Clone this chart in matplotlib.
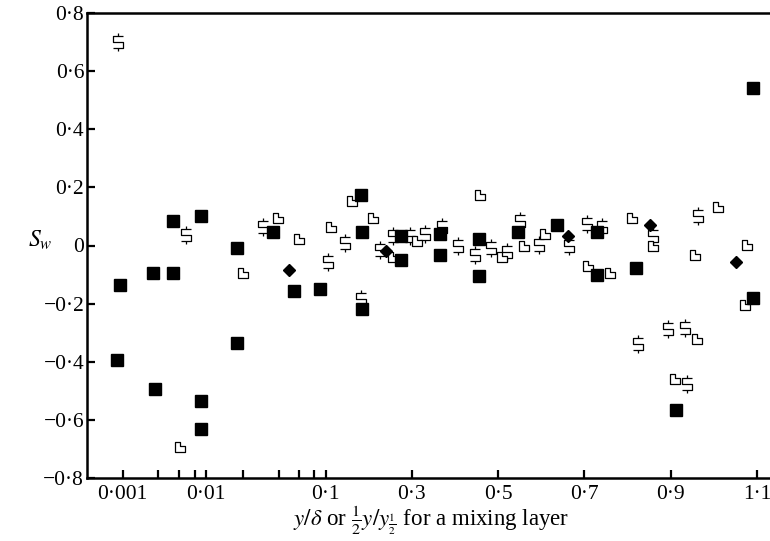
import numpy as np
import matplotlib.pyplot as plt
from matplotlib.path import Path

plt.rcParams['font.family'] = ['Liberation Serif', 'DejaVu Serif']
plt.rcParams['mathtext.fontset'] = 'stix'

# filled squares
sq_x = [0.00093, 0.00085, 0.0027, 0.0028, 0.0045, 0.0045, 0.0086, 0.0086, 0.0086,
        0.0185, 0.0185, 0.037, 0.055, 0.090, 0.182, 0.185, 0.185, 0.275, 0.275,
        0.365, 0.365, 0.456, 0.456, 0.546, 0.637, 0.729, 0.729, 0.820, 0.912,
        1.091, 1.091]
sq_y = [-0.137, -0.395, -0.093, -0.494, -0.093, 0.086, 0.103, -0.535, -0.631,
        -0.010, -0.336, 0.045, -0.158, -0.148, 0.175, 0.048, -0.220, 0.031, -0.051,
        0.038, -0.034, 0.021, -0.106, 0.048, 0.072, 0.045, -0.103, -0.079, -0.566,
        0.542, -0.182]

# filled diamonds
dm_x = [0.050, 0.240, 0.662, 0.852, 1.051]
dm_y = [-0.086, -0.020, 0.031, 0.069, -0.058]

# open L-shaped symbols
ol_x = [0.0052, 0.0202, 0.0397, 0.060, 0.113, 0.161, 0.210, 0.256, 0.312, 0.458,
        0.509, 0.560, 0.609, 0.708, 0.759, 0.810, 0.859, 0.956, 1.010, 1.077,
        1.072, 0.961, 0.910]
ol_y = [-0.693, -0.093, 0.096, 0.024, 0.065, 0.154, 0.093, -0.038, 0.014, 0.175,
        -0.041, -0.003, 0.038, -0.069, -0.093, 0.096, -0.003, -0.031, 0.134, 0.003,
        -0.206, -0.322, -0.460]

# stepped "S" symbols
ss_x = [0.00087, 0.0059, 0.0313, 0.106, 0.145, 0.182, 0.226, 0.256, 0.296, 0.331,
        0.370, 0.407, 0.447, 0.484, 0.521, 0.551, 0.595, 0.664, 0.706, 0.741,
        0.859, 0.963, 0.824, 0.894, 0.933, 0.938]
ss_y = [0.70, 0.035, 0.062, -0.058, 0.010, -0.185, -0.014, 0.031, 0.031, 0.038,
        0.065, -0.003, -0.031, -0.007, -0.021, 0.086, 0.003, -0.003, 0.075, 0.062,
        0.034, 0.103, -0.340, -0.288, -0.285, -0.477]

x_major = [0.001, 0.01, 0.1, 0.3, 0.5, 0.7, 0.9, 1.1]
x_major_labels = ['0·001', '0·01', '0·1', '0·3', '0·5', '0·7', '0·9', '1·1']
x_minor = [0.003, 0.005, 0.007, 0.02, 0.04, 0.06, 0.08]
y_ticks = [-0.8, -0.6, -0.4, -0.2, 0, 0.2, 0.4, 0.6, 0.8]
y_labels = ['−0·8', '−0·6', '−0·4', '−0·2', '0', '0·2', '0·4', '0·6', '0·8']

# the x axis is stretched below 0.1 and linear above it
scale_x = [0.0, 0.001, 0.003, 0.005, 0.007, 0.01, 0.02, 0.04, 0.06, 0.08, 0.1, 1.1, 1.13]
scale_pos = [87, 122.5, 158.3, 178.5, 195, 206, 242.7, 278.5, 299, 314, 325.5, 757, 770]


def fwd(x):
    return np.interp(x, scale_x, scale_pos)


def inv(p):
    return np.interp(p, scale_pos, scale_x)


l_marker = Path([(-0.5, -0.5), (0.5, -0.5), (0.5, 0.05), (0.0, 0.05), (0.0, 0.5),
                 (-0.5, 0.5), (-0.5, -0.5)], closed=True)
s_verts = [(0, 1.0), (0, 0.6),
           (0.5, 0.6), (-0.5, 0.6), (-0.5, 0.0), (0.5, 0.0), (0.5, -0.6), (-0.5, -0.6),
           (0.05, -0.6), (0.05, -1.0)]
s_codes = [Path.MOVETO, Path.LINETO,
           Path.MOVETO, Path.LINETO, Path.LINETO, Path.LINETO, Path.LINETO, Path.LINETO,
           Path.MOVETO, Path.LINETO]
s_marker = Path(s_verts, s_codes)

fig = plt.figure(figsize=(7.7, 5.41), dpi=100)
ax = fig.add_axes([87 / 770, 1 - 478 / 541, (770 - 87) / 770, (478 - 13) / 541])
ax.set_xscale('function', functions=(fwd, inv))

ax.plot(ss_x, ss_y, linestyle='none', marker=s_marker, markersize=13.5,
        markerfacecolor='none', markeredgecolor='black', markeredgewidth=0.9)
ax.plot(ol_x, ol_y, linestyle='none', marker=l_marker, markersize=7.5,
        markerfacecolor='white', markeredgecolor='black', markeredgewidth=0.9)
ax.plot(sq_x, sq_y, linestyle='none', marker='s', markersize=8.8,
        markerfacecolor='black', markeredgecolor='black')
ax.plot(dm_x, dm_y, linestyle='none', marker='D', markersize=6,
        markerfacecolor='black', markeredgecolor='black')

ax.set_xlim(0, 1.13)
ax.set_ylim(-0.8, 0.8)
ax.set_xticks(x_major)
ax.set_xticklabels(x_major_labels)
ax.set_xticks(x_minor, minor=True)
ax.set_yticks(y_ticks)
ax.set_yticklabels(y_labels)

ax.spines['right'].set_visible(False)
for s in ['left', 'bottom', 'top']:
    ax.spines[s].set_linewidth(1.8)
ax.tick_params(axis='both', which='both', direction='in', width=1.6, length=6,
               labelsize=15.5, top=False, right=False)
ax.tick_params(axis='x', pad=5)
ax.tick_params(axis='y', pad=2)

fig.text(0.56, 0.028, r'$y/\delta$ or $\frac{1}{2}y/y_{\frac{1}{2}}$ for a mixing layer',
         ha='center', va='baseline', fontsize=16.5)
fig.text(40 / 770, 1 - 240 / 541, r'$S_w$', ha='center', va='center', fontsize=17)

fig.savefig('out.png', dpi=100)
